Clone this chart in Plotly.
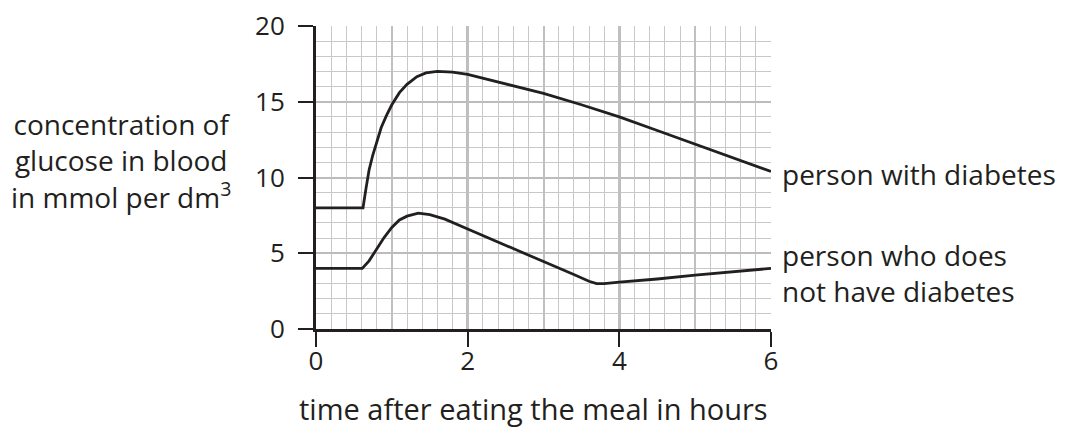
import plotly.graph_objects as go

# Data
time_diabetic = [0, 0.62, 0.66, 0.7, 0.75, 0.8, 0.86, 0.93, 1.0, 1.1, 1.2, 1.33, 1.45, 1.6, 1.8, 2.0,
                 2.5, 3.0, 3.5, 4.0, 4.5, 5.0, 5.5, 6.0]
glucose_diabetic = [8, 8, 9.3, 10.5, 11.5, 12.35, 13.3, 14.1, 14.8, 15.6, 16.15, 16.65, 16.9, 17.0, 16.95, 16.8,
                    16.2, 15.55, 14.8, 14.0, 13.1, 12.2, 11.3, 10.4]

time_normal = [0, 0.61, 0.7, 0.8, 0.9, 1.0, 1.1, 1.2, 1.35, 1.5, 1.7, 2.0, 2.5, 3.0, 3.4, 3.6, 3.7, 3.8,
               4.0, 4.5, 5.0, 5.5, 6.0]
glucose_normal = [4, 4, 4.5, 5.3, 6.05, 6.7, 7.2, 7.45, 7.65, 7.55, 7.25, 6.6, 5.5, 4.45, 3.6, 3.15, 3.0, 3.0,
                  3.1, 3.3, 3.55, 3.78, 4.0]

x_tick_vals = [0, 2, 4, 6]
y_tick_vals = [0, 5, 10, 15, 20]

label_diabetic = "person with diabetes"
label_normal = "person who does<br>not have diabetes"
x_title = "time after eating the meal in hours"
y_title = "concentration of<br>glucose in blood<br>in mmol per dm<sup>3</sup>"

INK = "#231f20"
FONT = "Open Sans"
TICK_FS = 26
TEXT_FS = 29
SIDE_FS = 28
YTITLE_FS = 28

fig = go.Figure()
fig.add_trace(go.Scatter(x=time_diabetic, y=glucose_diabetic, mode="lines",
                         line=dict(color=INK, width=2.8), showlegend=False, hoverinfo="skip"))
fig.add_trace(go.Scatter(x=time_normal, y=glucose_normal, mode="lines",
                         line=dict(color=INK, width=2.8), showlegend=False, hoverinfo="skip"))
# invisible trace on overlay axis for hourly grid lines
fig.add_trace(go.Scatter(x=[0, 6], y=[0, 0], xaxis="x2", mode="lines",
                         line=dict(width=0), opacity=0, showlegend=False, hoverinfo="skip"))

# the page body has an 8px margin, so margins are offset by 8px
fig.update_layout(
    width=1067, height=432, autosize=False,
    margin=dict(l=308, r=304, t=18, b=111),
    paper_bgcolor="white", plot_bgcolor="white",
    font=dict(family=FONT, size=TICK_FS, color=INK),
    xaxis=dict(range=[0, 6], tickvals=x_tick_vals, showgrid=True, gridcolor="#bcbcbc", gridwidth=3,
               showline=True, linecolor=INK, linewidth=3, ticks="outside", ticklen=15, tickwidth=2,
               tickcolor=INK, zeroline=False, ticklabelstandoff=-8, automargin=False,
               ticklabeloverflow="allow",
               minor=dict(dtick=0.2, showgrid=True, gridcolor="#c8c8c8", gridwidth=1.2, ticks="")),
    xaxis2=dict(range=[0, 6], overlaying="x", dtick=1, showgrid=True, gridcolor="#c0c0c0", gridwidth=2,
                showticklabels=False, ticks="", showline=False, zeroline=False),
    yaxis=dict(range=[0, 20], tickvals=y_tick_vals, showgrid=True, gridcolor="#bcbcbc", gridwidth=2,
               showline=True, linecolor=INK, linewidth=3, ticks="outside", ticklen=15, tickwidth=2,
               tickcolor=INK, zeroline=False, ticklabelstandoff=8, automargin=False,
               ticklabeloverflow="allow",
               minor=dict(dtick=1, showgrid=True, gridcolor="#c8c8c8", gridwidth=1.2, ticks="")),
)

fig.add_annotation(x=6, y=10.2, xref="x", yref="y", text=label_diabetic,
                   showarrow=False, xanchor="left", yanchor="middle", xshift=9, align="left",
                   font=dict(size=SIDE_FS))
fig.add_annotation(x=6, y=3.7, xref="x", yref="y", text=label_normal,
                   showarrow=False, xanchor="left", yanchor="middle", xshift=9, align="left",
                   font=dict(size=SIDE_FS))
fig.add_annotation(x=-0.4286, y=0.556, xref="paper", yref="paper", text=y_title,
                   showarrow=False, xanchor="center", yanchor="middle", align="center",
                   font=dict(size=YTITLE_FS))
fig.add_annotation(x=0.479, y=-0.262, xref="paper", yref="paper", text=x_title,
                   showarrow=False, xanchor="center", yanchor="middle",
                   font=dict(size=TEXT_FS))

fig.write_html("out.html")
